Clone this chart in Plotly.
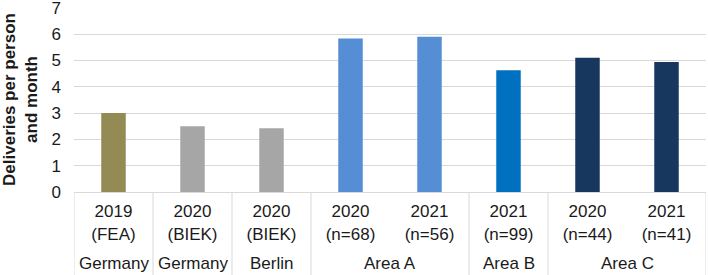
import plotly.graph_objects as go

regions = ["Germany", "Germany", "Berlin", "Area A", "Area A", "Area B", "Area C", "Area C"]
region_group = [0, 1, 2, 3, 3, 4, 5, 5]  # which outer box each bar belongs to
studies = ["2019<br>(FEA)", "2020<br>(BIEK)", "2020<br>(BIEK)", "2020<br>(n=68)", "2021<br>(n=56)",
           "2021<br>(n=99)", "2020<br>(n=44)", "2021<br>(n=41)"]
deliveries = [3.0, 2.5, 2.42, 5.83, 5.9, 4.63, 5.1, 4.94]
bar_colors = ["#948A54", "#A6A6A6", "#A6A6A6", "#558ED5", "#558ED5", "#0070C0", "#17375E", "#17375E"]
y_ticks = [0, 1, 2, 3, 4, 5, 6, 7]

positions = list(range(len(deliveries)))

fig = go.Figure(go.Bar(
    x=positions,
    y=deliveries,
    marker=dict(color=bar_colors, line=dict(width=0)),
))

# outer category labels and divider lines, derived from the grouping
groups = []
for i, g in enumerate(region_group):
    if not groups or groups[-1][0] != g:
        groups.append([g, i, i, regions[i]])
    else:
        groups[-1][2] = i

line_style = dict(color="#D9D9D9", width=1)
for g, first, last, name in groups:
    fig.add_annotation(
        x=(first + last) / 2, xref="x", y=0, yref="paper",
        text=name, showarrow=False, yanchor="middle", yshift=-71,
        font=dict(size=17),
    )
    fig.add_shape(type="line", xref="x", yref="paper", x0=first - 0.5, x1=first - 0.5,
                  y0=0, y1=-0.6, line=line_style, layer="above")
fig.add_shape(type="line", xref="x", yref="paper", x0=groups[-1][2] + 0.5, x1=groups[-1][2] + 0.5,
              y0=0, y1=-0.6, line=line_style, layer="above")

fig.update_layout(
    width=708, height=275,
    margin=dict(l=74, r=2, t=7, b=83),
    paper_bgcolor="white", plot_bgcolor="white",
    bargap=0.69,
    showlegend=False,
    font=dict(family="Liberation Sans, Arial, sans-serif", size=17, color="#1a1a1a"),
)
fig.update_xaxes(
    automargin=False,
    range=[-0.5, len(deliveries) - 0.5],
    tickvals=positions, ticktext=studies,
    showline=True, linecolor="#D9D9D9", linewidth=1,
    ticks="", tickfont=dict(size=17), ticklabelstandoff=4,
    showgrid=False, zeroline=False,
)
fig.update_yaxes(
    automargin=False,
    range=[0, 7.03], tickvals=y_ticks,
    showgrid=True, gridcolor="#D9D9D9", gridwidth=1,
    zeroline=False, showline=False,
    ticks="", ticklabelstandoff=12, ticklabeloverflow="allow",
    tickfont=dict(size=17),
    title=dict(text="<b>Deliveries per person<br>and month</b>", font=dict(size=17), standoff=10),
)

fig.write_html("out.html", config={"displayModeBar": False},
               post_script="document.body.style.margin='0';")
